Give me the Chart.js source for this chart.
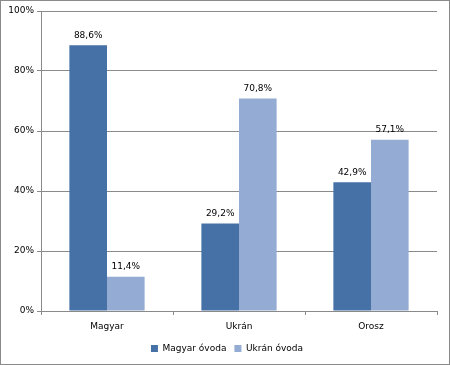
<!DOCTYPE html>
<html>
<head>
<meta charset="utf-8">
<script src="https://cdn.jsdelivr.net/npm/chart.js@4/dist/chart.umd.min.js"></script>
<style>
  html, body { margin: 0; padding: 0; background: #fff; }
  #wrap {
    width: 450px; height: 365px;
    box-sizing: border-box;
    border: 1px solid #8a8a8a;
    position: relative;
  }
</style>
</head>
<body>
<div id="wrap"><canvas id="chart" width="448" height="363"></canvas></div>
<script>
// chart data
const categories = ["Magyar", "Ukrán", "Orosz"];
const magyarOvoda = [88.6, 29.2, 42.9];
const ukranOvoda = [11.4, 70.8, 57.1];
const yTicks = [0, 20, 40, 60, 80, 100];

const FONT = "'DejaVu Sans', Verdana, sans-serif";

// values above bars, with comma decimals
const valueLabels = {
  id: "valueLabels",
  afterDatasetsDraw(chart) {
    const ctx = chart.ctx;
    ctx.save();
    ctx.font = "9px " + FONT;
    ctx.fillStyle = "#000";
    ctx.textAlign = "center";
    ctx.textBaseline = "middle";
    chart.data.datasets.forEach((ds, i) => {
      chart.getDatasetMeta(i).data.forEach((bar, j) => {
        const txt = ds.data[j].toFixed(1).replace(".", ",") + "%";
        ctx.fillText(txt, bar.x, bar.y - 10);
      });
    });
    ctx.restore();
  }
};

// legend sits a little right of the plot centre in the original
const shiftLegend = {
  id: "shiftLegend",
  afterLayout(chart) {
    chart.legend.left += 8;
    chart.legend.right += 8;
  }
};

const data = {
  labels: categories,
  datasets: [{
    label: "Magyar óvoda",
    backgroundColor: "#4571a6",
    data: magyarOvoda,
    categoryPercentage: 0.57,
    barPercentage: 1.0
  }, {
    label: "Ukrán óvoda",
    backgroundColor: "#94abd3",
    data: ukranOvoda,
    categoryPercentage: 0.57,
    barPercentage: 1.0
  }]
};

const config = {
  type: "bar",
  data: data,
  plugins: [valueLabels, shiftLegend],
  options: {
    responsive: false,
    animation: false,
    layout: { padding: { left: 0, right: 12, top: 10, bottom: 1 } },
    plugins: {
      tooltip: { enabled: false },
      legend: {
        position: "bottom",
        labels: {
          boxWidth: 7,
          boxHeight: 7,
          padding: 8,
          color: "#000",
          font: { family: FONT, size: 9 }
        }
      }
    },
    scales: {
      x: {
        afterFit(scale) { scale.height = 25; },
        grid: {
          offset: true,
          drawOnChartArea: false,
          drawTicks: true,
          tickLength: 4,
          color: "#8a8a8a"
        },
        border: { color: "#8a8a8a" },
        ticks: {
          padding: 6,
          color: "#000",
          font: { family: FONT, size: 9 }
        }
      },
      y: {
        min: 0,
        max: 100,
        afterFit(scale) { scale.width = 40; },
        afterBuildTicks(scale) { scale.ticks = yTicks.map(v => ({ value: v })); },
        grid: {
          color: "#8a8a8a",
          drawTicks: true,
          tickLength: 4
        },
        border: { color: "#8a8a8a" },
        ticks: {
          padding: 3,
          color: "#000",
          font: { family: FONT, size: 9 },
          callback: v => v + "%"
        }
      }
    }
  }
};

new Chart(document.getElementById("chart"), config);
</script>
</body>
</html>
